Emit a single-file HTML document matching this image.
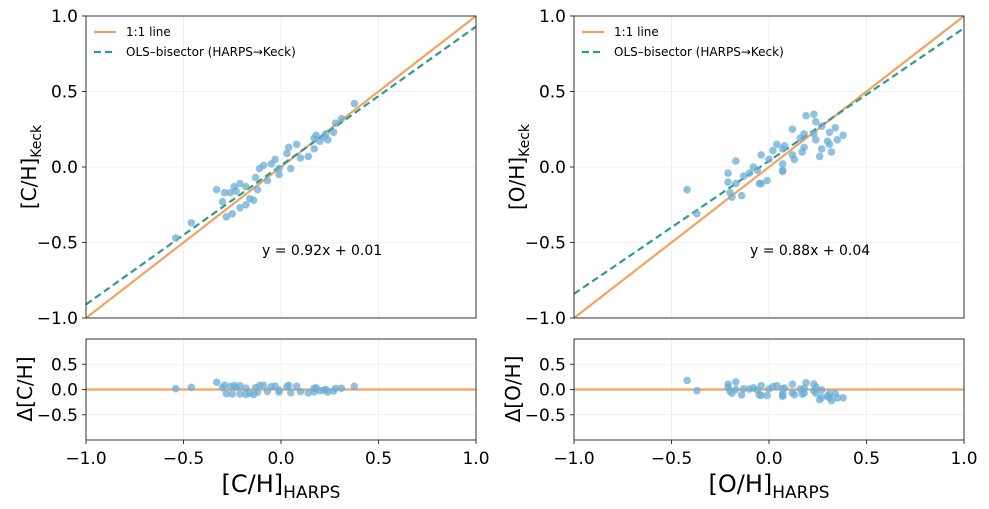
<!DOCTYPE html>
<html><head><meta charset="utf-8"><style>
body{margin:0;background:#fff;width:989px;height:504px;overflow:hidden}
svg text{font-family:"DejaVu Sans","Liberation Sans",sans-serif;fill:#000}
</style></head><body>
<svg id="fig" width="989" height="504" xmlns="http://www.w3.org/2000/svg"></svg>
<script>
const chX=[.376,.31,.28,.27,.23,.24,.22,.18,.17,.20,.17,.14,.10,.08,.04,.03,.05,-.01,-.01,-.05,-.03,-.07,-.11,-.09,-.13,-.12,-.16,-.14,-.18,-.21,-.24,-.23,-.26,-.29,-.30,-.33,-.28,-.25,-.21,-.18,-.46,-.54];
const chY=[.42,.32,.29,.23,.22,.18,.20,.21,.19,.17,.12,.07,.06,.15,.13,.09,-.01,-.05,-.01,.02,.05,-.09,-.01,.01,-.07,-.15,-.21,-.22,-.13,-.11,-.13,-.16,-.17,-.17,-.23,-.15,-.33,-.31,-.27,-.25,-.37,-.47];
const ohX=[.19,.23,.24,.27,.34,.31,.38,.35,.30,.31,.27,.32,.26,.23,.24,.18,.16,.12,.18,.17,.12,.13,.08,.04,.07,.02,.07,.07,.07,0,-.04,-.08,-.06,-.10,-.13,-.05,-.01,-.04,-.17,-.21,-.21,-.17,-.20,-.19,-.14,-.42,-.37];
const ohY=[.34,.35,.30,.27,.26,.23,.21,.18,.17,.15,.12,.10,.07,.22,.18,.22,.19,.25,.13,.10,.08,.05,.14,.15,.12,.11,.02,-.02,-.03,.05,.08,0,-.02,-.04,-.06,-.11,-.09,-.11,.04,-.04,-.10,-.11,-.17,-.20,-.19,-.15,-.31];
const fitC=[0.92,0.01], fitO=[0.88,0.04];
const ticks=[-1,-0.5,0,0.5,1], tickLbl=["\u22121.0","\u22120.5","0.0","0.5","1.0"];
const rTicks=[-0.5,0,0.5], rTickLbl=["\u22120.5","0.0","0.5"];
const svg=document.getElementById('fig');
const NS="http://www.w3.org/2000/svg";
function mk(tag,a,name,parent){const e=document.createElementNS(NS,tag);for(const k in a)e.setAttribute(k,a[k]);


(parent||svg).appendChild(e);return e;}
function panel(x0,X,Y,fit,lab,px){
  const W=390,top=16,bot=318,rt=339,rb=440;
  const sx=v=>x0+(v+1)/2*W, sy=v=>bot-(v+1)/2*(bot-top), ry=v=>rb-(v+1)/2*(rb-rt);
  const g=mk('g',{},px+'-panel');
  ticks.forEach(t=>{mk('line',{x1:sx(t),x2:sx(t),y1:top,y2:bot,stroke:'#ececec','stroke-width':0.8},'grid-x',g);
    mk('line',{x1:x0,x2:x0+W,y1:sy(t),y2:sy(t),stroke:'#ececec','stroke-width':0.8},'grid-y',g);
    mk('line',{x1:sx(t),x2:sx(t),y1:rt,y2:rb,stroke:'#ececec','stroke-width':0.8},'resid-grid-x',g);});
  rTicks.forEach(t=>mk('line',{x1:x0,x2:x0+W,y1:ry(t),y2:ry(t),stroke:'#ececec','stroke-width':0.8},'resid-grid-y',g));
  mk('line',{x1:sx(-1),y1:sy(-1),x2:sx(1),y2:sy(1),stroke:'#f4a261','stroke-width':2.2},'one-to-one-line',g);
  mk('line',{x1:sx(-1),y1:sy(fit[0]*-1+fit[1]),x2:sx(1),y2:sy(fit[0]+fit[1]),stroke:'#2a9d8f','stroke-width':2.2,'stroke-dasharray':'7,4'},'ols-bisector-line',g);
  X.forEach((v,i)=>{mk('circle',{cx:sx(v),cy:sy(Y[i]),r:3.8,fill:'#6baed6','fill-opacity':0.75},'data-point',g);});
  mk('line',{x1:x0,x2:x0+W,y1:ry(0),y2:ry(0),stroke:'#f4a261','stroke-width':2.2},'zero-line',g);
  X.forEach((v,i)=>{mk('circle',{cx:sx(v),cy:ry(Y[i]-(fit[0]*v+fit[1])),r:3.8,fill:'#6baed6','fill-opacity':0.75},'residual-point',g);});
  mk('rect',{x:x0,y:top,width:W,height:bot-top,fill:'none',stroke:'#333','stroke-width':1},'main-axes-frame',g);
  mk('rect',{x:x0,y:rt,width:W,height:rb-rt,fill:'none',stroke:'#333','stroke-width':1},'residual-axes-frame',g);
  ticks.forEach((t,i)=>{
    mk('line',{x1:x0-4,x2:x0,y1:sy(t),y2:sy(t),stroke:'#333'},'y-tick',g);
    mk('text',{x:x0-8,y:sy(t)+6,'font-size':17,'text-anchor':'end'},'y-tick-label',g).textContent=tickLbl[i];
    mk('line',{x1:sx(t),x2:sx(t),y1:rb,y2:rb+4,stroke:'#333'},'x-tick',g);
    mk('text',{x:sx(t),y:rb+24,'font-size':17,'text-anchor':'middle'},'x-tick-label',g).textContent=tickLbl[i];
  });
  rTicks.forEach((t,i)=>{
    mk('line',{x1:x0-4,x2:x0,y1:ry(t),y2:ry(t),stroke:'#333'},'resid-y-tick',g);
    mk('text',{x:x0-8,y:ry(t)+6,'font-size':17,'text-anchor':'end'},'resid-y-tick-label',g).textContent=rTickLbl[i];
  });
  mk('line',{x1:x0+8,x2:x0+30,y1:32,y2:32,stroke:'#f4a261','stroke-width':2.2},'legend-1to1-swatch',g);
  mk('text',{x:x0+40,y:36,'font-size':12},'legend-1to1-label',g).textContent='1:1 line';
  mk('line',{x1:x0+8,x2:x0+30,y1:52,y2:52,stroke:'#2a9d8f','stroke-width':2.2,'stroke-dasharray':'7,4'},'legend-ols-swatch',g);
  mk('text',{x:x0+40,y:56,'font-size':12},'legend-ols-label',g).textContent='OLS\u2013bisector (HARPS\u2192Keck)';
  mk('text',{x:x0+176,y:255,'font-size':14},'fit-equation',g).textContent='y = '+fit[0].toFixed(2)+'x + '+fit[1].toFixed(2);
  const yl=mk('text',{transform:`translate(${x0-50},167) rotate(-90)`,'font-size':20,'text-anchor':'middle'},'y-axis-title',g);
  yl.innerHTML=`[${lab}]<tspan font-size="14" dy="5">Keck</tspan>`;
  mk('text',{transform:`translate(${x0-54},389) rotate(-90)`,'font-size':20,'text-anchor':'middle'},'residual-axis-title',g).textContent='\u0394['+lab+']';
  const xl=mk('text',{x:x0+W/2,y:492,'font-size':24,'text-anchor':'middle'},'x-axis-title',g);
  xl.innerHTML=`[${lab}]<tspan font-size="17" dy="6">HARPS</tspan>`;
}
panel(86,chX,chY,fitC,'C/H','carbon');
panel(574,ohX,ohY,fitO,'O/H','oxygen');
</script>
</body></html>
